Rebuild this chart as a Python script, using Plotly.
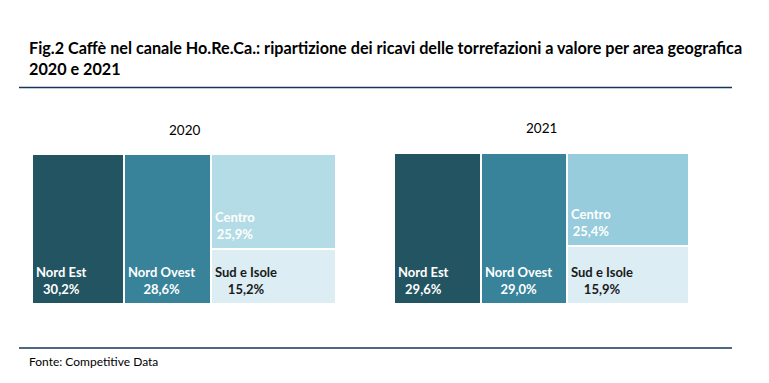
import plotly.graph_objects as go

# ---- data ----
regions = ["Nord Est", "Nord Ovest", "Centro", "Sud e Isole"]
years = ["2020", "2021"]
values_2020 = [30.2, 28.6, 25.9, 15.2]
values_2021 = [29.6, 29.0, 25.4, 15.9]
labels_2020 = ["30,2%", "28,6%", "25,9%", "15,2%"]
labels_2021 = ["29,6%", "29,0%", "25,4%", "15,9%"]

title_text = "Fig.2 Caffè nel canale Ho.Re.Ca.: ripartizione dei ricavi delle torrefazioni a valore per area geografica<br>2020 e 2021"
source_text = "Fonte: Competitive Data"

# ---- style ----
W, H = 769, 383
FONT = "Lato"
colors_2020 = ["#235462", "#38839a", "#b4dce6", "#dcedf3"]
colors_2021 = ["#235462", "#38839a", "#96ccdc", "#dcedf3"]
text_colors = ["white", "white", "white", "#1a1a1a"]

# pixel boxes of each treemap (left, top, right, bottom)
boxes = [(32, 154, 336, 304), (394, 153, 689, 304)]


def px_dom(box):
    l, t, r, b = box
    return [l / W, r / W], [1 - b / H, 1 - t / H]


fig = go.Figure()
annotations = []

for i, (year, vals, labs, cols) in enumerate(zip(years, [values_2020, values_2021],
                                                  [labels_2020, labels_2021],
                                                  [colors_2020, colors_2021])):
    xa = "x" if i == 0 else "x2"
    ya = "y" if i == 0 else "y2"
    total = sum(vals)
    ne, no, ce, su = vals
    col3 = ce + su
    sud_h = su / col3 * 100
    lefts = [0, ne, ne + no, ne + no]
    widths = [ne, no, col3, col3]
    bases = [0, 0, sud_h, 0]
    heights = [100, 100, 100 - sud_h, sud_h]
    fig.add_trace(go.Bar(
        x=[l + w / 2 for l, w in zip(lefts, widths)],
        y=heights,
        base=bases,
        width=widths,
        marker=dict(color=cols, line=dict(color="white", width=2)),
        xaxis=xa, yaxis=ya,
        hovertext=[f"{r}: {l}" for r, l in zip(regions, labs)],
        hoverinfo="text",
        showlegend=False,
    ))
    for k in range(4):
        annotations.append(dict(
            x=lefts[k], y=bases[k], xref=xa, yref=ya,
            xanchor="left", yanchor="bottom", xshift=2, yshift=5,
            text=f"<b>{regions[k]}</b><br><b>{labs[k]}</b>", align="center",
            showarrow=False,
            font=dict(family=FONT, size=13, color=text_colors[k]),
        ))
    dx, dy = px_dom(boxes[i])
    axis_common = dict(showgrid=False, zeroline=False, showticklabels=False,
                       showline=False, fixedrange=True)
    fig.update_layout(**{
        ("xaxis" if i == 0 else "xaxis2"): dict(domain=dx, range=[0, total],
                                               anchor=ya, **axis_common),
        ("yaxis" if i == 0 else "yaxis2"): dict(domain=dy, range=[0, 100],
                                               anchor=xa, **axis_common),
    })
    # year label
    cx = (boxes[i][0] + boxes[i][2]) / 2 / W
    annotations.append(dict(
        x=cx, y=1 - (130 - i * 2) / H, xref="paper", yref="paper",
        xanchor="center", yanchor="middle", text=year, showarrow=False,
        font=dict(family=FONT, size=13.5, color="black"),
    ))

# title
annotations.append(dict(
    x=27 / W, y=1 - 36 / H, xref="paper", yref="paper", xanchor="left", yanchor="top",
    text=f"<b>{title_text}</b>", align="left", showarrow=False,
    font=dict(family=FONT, size=16.2, color="black"),
))
# source
annotations.append(dict(
    x=27 / W, y=1 - 361 / H, xref="paper", yref="paper", xanchor="left", yanchor="middle",
    text=source_text, align="left", showarrow=False,
    font=dict(family=FONT, size=12, color="black"),
))

shapes = [
    dict(type="line", xref="paper", yref="paper", x0=19 / W, x1=732 / W,
         y0=1 - 87.5 / H, y1=1 - 87.5 / H, line=dict(color="#17365d", width=1.5)),
    dict(type="line", xref="paper", yref="paper", x0=19 / W, x1=732 / W,
         y0=1 - 348 / H, y1=1 - 348 / H, line=dict(color="#17365d", width=1.5)),
]

fig.update_layout(
    width=W, height=H,
    margin=dict(l=0, r=0, t=0, b=0),
    paper_bgcolor="white", plot_bgcolor="white",
    barmode="overlay", bargap=0,
    annotations=annotations, shapes=shapes,
    font=dict(family=FONT),
)

fig.write_html("out.html", config={"displayModeBar": False},
               post_script="document.body.style.margin='0';document.body.style.overflow='hidden';")
